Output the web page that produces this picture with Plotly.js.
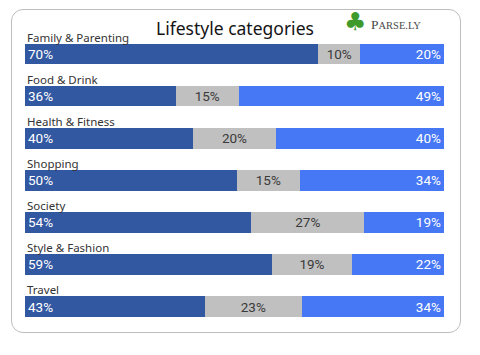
<!DOCTYPE html>
<html>
<head>
<meta charset="utf-8">
<script src="https://cdn.plot.ly/plotly-3.0.1.min.js"></script>
<style>
  html, body { margin: 0; padding: 0; background: #ffffff; }
  #wrap { position: relative; width: 480px; height: 355px; }
  #frame { position: absolute; left: 11px; top: 9px; width: 448px; height: 322px;
           border: 1.5px solid #bdbdbd; border-radius: 12px; }
  #chart { position: absolute; left: 0; top: 0; width: 480px; height: 355px; }
</style>
</head>
<body>
<div id="wrap">
  <div id="frame"></div>
  <div id="chart"></div>
</div>
<script>
const categories = ['Family & Parenting', 'Food & Drink', 'Health & Fitness', 'Shopping', 'Society', 'Style & Fashion', 'Travel'];
const darkValues = [70, 36, 40, 50, 54, 59, 43];
const grayValues = [10, 15, 20, 15, 27, 19, 23];
const lightValues = [20, 49, 40, 34, 19, 22, 34];
const chartTitle = 'Lifestyle categories';

const pct = arr => arr.map(v => v + '%');
const textFont = 'Roboto, "DejaVu Sans", sans-serif';

function seg(vals, color, txtColor, anchor) {
  return {
    type: 'bar', orientation: 'h',
    y: categories, x: vals,
    text: pct(vals), texttemplate: '%{text}',
    textposition: 'inside', insidetextanchor: anchor, textangle: 0,
    constraintext: 'none',
    insidetextfont: { family: textFont, size: 13.5, color: txtColor },
    marker: { color: color, line: { width: 0 } },
    hoverinfo: 'skip', showlegend: false
  };
}

const data = [
  seg(darkValues, '#3358A2', '#ffffff', 'start'),
  seg(grayValues, '#C0C0C0', '#3a3a3a', 'middle'),
  seg(lightValues, '#4677F5', '#ffffff', 'end')
];

const annotations = categories.map(c => ({
  xref: 'paper', x: 0, xanchor: 'left',
  yref: 'y', y: c, yanchor: 'middle', yshift: 17,
  text: c, showarrow: false,
  font: { family: '"Noto Sans", sans-serif', size: 11.5, color: '#333333' }
}));

annotations.push({
  xref: 'paper', yref: 'paper', x: 0.5, y: 1.0, xanchor: 'center', yanchor: 'bottom',
  xshift: 0, yshift: -9,
  text: chartTitle, showarrow: false,
  font: { family: '"Noto Sans", sans-serif', size: 17.5, color: '#141414' }
});
annotations.push({
  xref: 'paper', yref: 'paper', x: 0.7876, y: 1.0, xanchor: 'center', yanchor: 'bottom',
  xshift: 0, yshift: -5,
  text: '\u2663', showarrow: false,
  font: { family: '"DejaVu Sans", sans-serif', size: 25, color: '#3f9a2c' }
});
annotations.push({
  xref: 'paper', yref: 'paper', x: 0.8209, y: 1.0, xanchor: 'left', yanchor: 'bottom',
  xshift: 0, yshift: -1,
  text: 'P<span style="font-size:10.5px">ARSE.LY</span>', showarrow: false,
  font: { family: '"Liberation Serif", "DejaVu Serif", serif', size: 13.5, color: '#4a4a4a' }
});

const layout = {
  width: 480, height: 355,
  margin: { l: 25, r: 36, t: 33, b: 22, pad: 0 },
  paper_bgcolor: 'rgba(0,0,0,0)', plot_bgcolor: 'rgba(0,0,0,0)',
  barmode: 'stack', barnorm: 'percent', bargap: 0.51,
  xaxis: { visible: false, range: [0, 100], fixedrange: true },
  yaxis: { visible: false, type: 'category', autorange: 'reversed', fixedrange: true },
  showlegend: false,
  annotations: annotations
};

Plotly.newPlot('chart', data, layout, { displayModeBar: false, staticPlot: true });
</script>
</body>
</html>
